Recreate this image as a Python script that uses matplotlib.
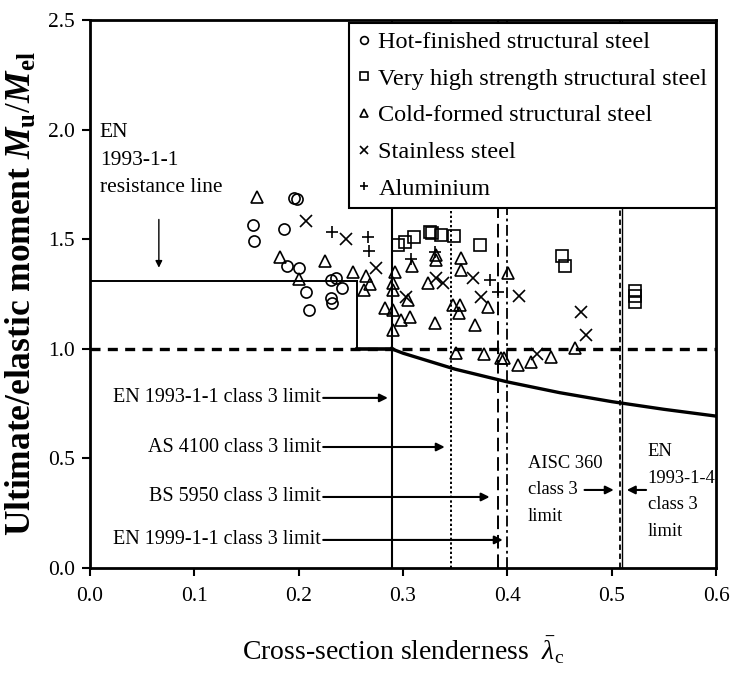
import matplotlib
matplotlib.use("Agg")
import matplotlib.pyplot as plt

plt.rcParams['font.family'] = ['Liberation Serif', 'DejaVu Serif']
plt.rcParams['mathtext.fontset'] = 'custom'
plt.rcParams['mathtext.rm'] = 'Liberation Serif'
plt.rcParams['mathtext.it'] = 'Liberation Serif:italic'
plt.rcParams['mathtext.bf'] = 'Liberation Serif:bold'
plt.rcParams['mathtext.bfit'] = 'Liberation Serif:bold:italic'

# ---- data ----
hot_x = [0.156, 0.157, 0.196, 0.198, 0.186, 0.189, 0.200, 0.207, 0.210, 0.231, 0.236, 0.242, 0.231, 0.232]
hot_y = [1.565, 1.490, 1.690, 1.683, 1.545, 1.380, 1.370, 1.260, 1.177, 1.314, 1.322, 1.278, 1.232, 1.210]

vhs_x = [0.295, 0.302, 0.311, 0.326, 0.328, 0.336, 0.349, 0.374, 0.452, 0.455, 0.522, 0.522, 0.522]
vhs_y = [1.472, 1.487, 1.510, 1.535, 1.528, 1.520, 1.515, 1.474, 1.425, 1.377, 1.262, 1.240, 1.215]

cold_x = [0.160, 0.182, 0.200, 0.225, 0.252, 0.265, 0.268, 0.263, 0.292, 0.2905, 0.290, 0.2826,
          0.2905, 0.2985, 0.2905, 0.3065, 0.305, 0.309, 0.324, 0.3305, 0.3314, 0.3314, 0.356, 0.356,
          0.348, 0.355, 0.3535, 0.369, 0.381, 0.4007, 0.351, 0.378, 0.394, 0.397, 0.410, 0.423,
          0.442, 0.465]
cold_y = [1.694, 1.417, 1.320, 1.402, 1.352, 1.330, 1.295, 1.270, 1.352, 1.300, 1.268, 1.185,
          1.177, 1.131, 1.086, 1.146, 1.223, 1.380, 1.299, 1.116, 1.428, 1.405, 1.413, 1.360,
          1.200, 1.200, 1.162, 1.109, 1.192, 1.345, 0.980, 0.975, 0.957, 0.960, 0.926, 0.941,
          0.964, 1.002]

ss_x = [0.2075, 0.2458, 0.2746, 0.3033, 0.332, 0.338, 0.367, 0.375, 0.411, 0.428, 0.471, 0.4757]
ss_y = [1.585, 1.500, 1.367, 1.235, 1.321, 1.300, 1.321, 1.238, 1.243, 0.975, 1.167, 1.063]

al_x = [0.2315, 0.266, 0.2675, 0.308, 0.331, 0.383, 0.391]
al_y = [1.535, 1.509, 1.448, 1.410, 1.440, 1.314, 1.260]

# EN 1993-1-1 resistance line (plateau, step, then class 3 curve)
res_x = [0.0, 0.2555, 0.2555, 0.289]
res_y = [1.31, 1.31, 1.0, 1.0]
curve_x = [0.289, 0.30, 0.35, 0.40, 0.45, 0.50, 0.55, 0.60]
curve_y = [1.000, 0.980, 0.907, 0.849, 0.800, 0.759, 0.724, 0.693]

# class 3 limits
lim_en1993 = 0.289
lim_as4100 = 0.3458
lim_bs5950 = 0.3908
lim_en1999 = 0.3994
lim_aisc = 0.5077
lim_en19934 = 0.5096

fig = plt.figure(figsize=(7.34, 6.88), dpi=100)
ax = fig.add_axes([90/734, 120/688, 626/734, 548/688])
ax.set_xlim(0, 0.6)
ax.set_ylim(0, 2.5)

# reference lines
ax.axhline(1.0, color='black', lw=2.4, ls=(0, (3.0, 2.2)), zorder=2)
ax.plot(res_x[:2], res_y[:2], color='black', lw=1.4, zorder=3)
ax.plot(res_x[1:3], res_y[1:3], color='black', lw=1.4, zorder=3)
ax.plot(res_x[2:], res_y[2:], color='black', lw=2.6, zorder=3)
ax.plot(curve_x, curve_y, color='black', lw=2.4, zorder=3)

ax.axvline(lim_en1993, color='black', lw=1.5, zorder=1)
ax.axvline(lim_as4100, color='black', lw=1.4, ls=(0, (1.2, 1.2)), zorder=1)
ax.axvline(lim_bs5950, color='black', lw=1.4, ls=(0, (7, 3)), zorder=1)
ax.axvline(lim_en1999, color='black', lw=1.3, ls=(0, (6, 2, 1.5, 2)), zorder=1)
ax.axvline(lim_aisc, color='black', lw=1.3, ls=(0, (3, 2)), zorder=1)
ax.axvline(lim_en19934, color='black', lw=1.0, zorder=1)

mk = dict(linestyle='none', color='black', markerfacecolor='none', markeredgewidth=1.2, zorder=4)
ax.plot(hot_x, hot_y, marker='o', markersize=8, label='Hot-finished structural steel', **mk)
ax.plot(vhs_x, vhs_y, marker='s', markersize=8, label='Very high strength structural steel', **mk)
ax.plot(cold_x, cold_y, marker='^', markersize=8, label='Cold-formed structural steel', **mk)
ax.plot(ss_x, ss_y, marker='x', markersize=8, label='Stainless steel', **mk)
ax.plot(al_x, al_y, marker='+', markersize=9, label='Aluminium', **mk)

leg = ax.legend(loc='upper right', bbox_to_anchor=(1.0, 0.995), borderaxespad=0.0,
                fontsize=17.5, handlelength=0.5, handletextpad=0.35, labelspacing=0.6,
                borderpad=0.35, markerscale=0.7, fancybox=False, framealpha=1.0,
                edgecolor='black')
leg.get_frame().set_linewidth(1.5)
leg.set_zorder(10)

# annotations
fs = 14.5
fs2 = 13.3
arrow = dict(arrowstyle='-|>', color='black', lw=1.5, mutation_scale=12, shrinkA=0, shrinkB=0)
ax.text(0.0095, 1.86, 'EN\n1993-1-1\nresistance line', fontsize=15.5, ha='left', va='center',
        linespacing=1.6)
ax.annotate('', xy=(0.066, 1.37), xytext=(0.066, 1.59),
            arrowprops=dict(arrowstyle='-|>', color='black', lw=1.0, mutation_scale=10,
                            shrinkA=0, shrinkB=0))

left_labels = ['EN 1993-1-1 class 3 limit', 'AS 4100 class 3 limit',
               'BS 5950 class 3 limit', 'EN 1999-1-1 class 3 limit']
left_y = [0.776, 0.552, 0.324, 0.128]
left_tip = [0.2855, 0.340, 0.383, 0.3956]
for lab, yy, tip in zip(left_labels, left_y, left_tip):
    ax.text(0.2215, yy, lab, fontsize=fs, ha='right', va='center')
    ax.annotate('', xy=(tip, yy), xytext=(0.2235, yy), arrowprops=arrow)

ax.text(0.4195, 0.356, 'AISC 360\nclass 3\nlimit', fontsize=fs2, ha='left', va='center',
        linespacing=1.75)
ax.annotate('', xy=(0.502, 0.356), xytext=(0.474, 0.356), arrowprops=arrow)
ax.text(0.5345, 0.349, 'EN\n1993-1-4\nclass 3\nlimit', fontsize=fs2, ha='left', va='center',
        linespacing=1.75)
ax.annotate('', xy=(0.5145, 0.356), xytext=(0.533, 0.356), arrowprops=arrow)

# axes styling
for s in ax.spines.values():
    s.set_linewidth(2.0)
ax.set_xticks([0.0, 0.1, 0.2, 0.3, 0.4, 0.5, 0.6])
ax.set_yticks([0.0, 0.5, 1.0, 1.5, 2.0, 2.5])
ax.xaxis.set_major_formatter(matplotlib.ticker.FormatStrFormatter('%.1f'))
ax.yaxis.set_major_formatter(matplotlib.ticker.FormatStrFormatter('%.1f'))
ax.tick_params(direction='out', length=6, width=1.5, labelsize=15.5, pad=5)
ax.tick_params(axis='x', pad=8)

ax.set_xlabel(r'Cross-section slenderness  $\bar{\lambda}_\mathrm{c}$', fontsize=20, labelpad=20)
ax.set_ylabel(r'Ultimate/elastic moment $\mathbfit{M}_\mathbf{u}/\mathbfit{M}_\mathbf{el}$',
              fontsize=25.5, fontweight='bold', labelpad=6)

fig.savefig('out.png', dpi=100)
